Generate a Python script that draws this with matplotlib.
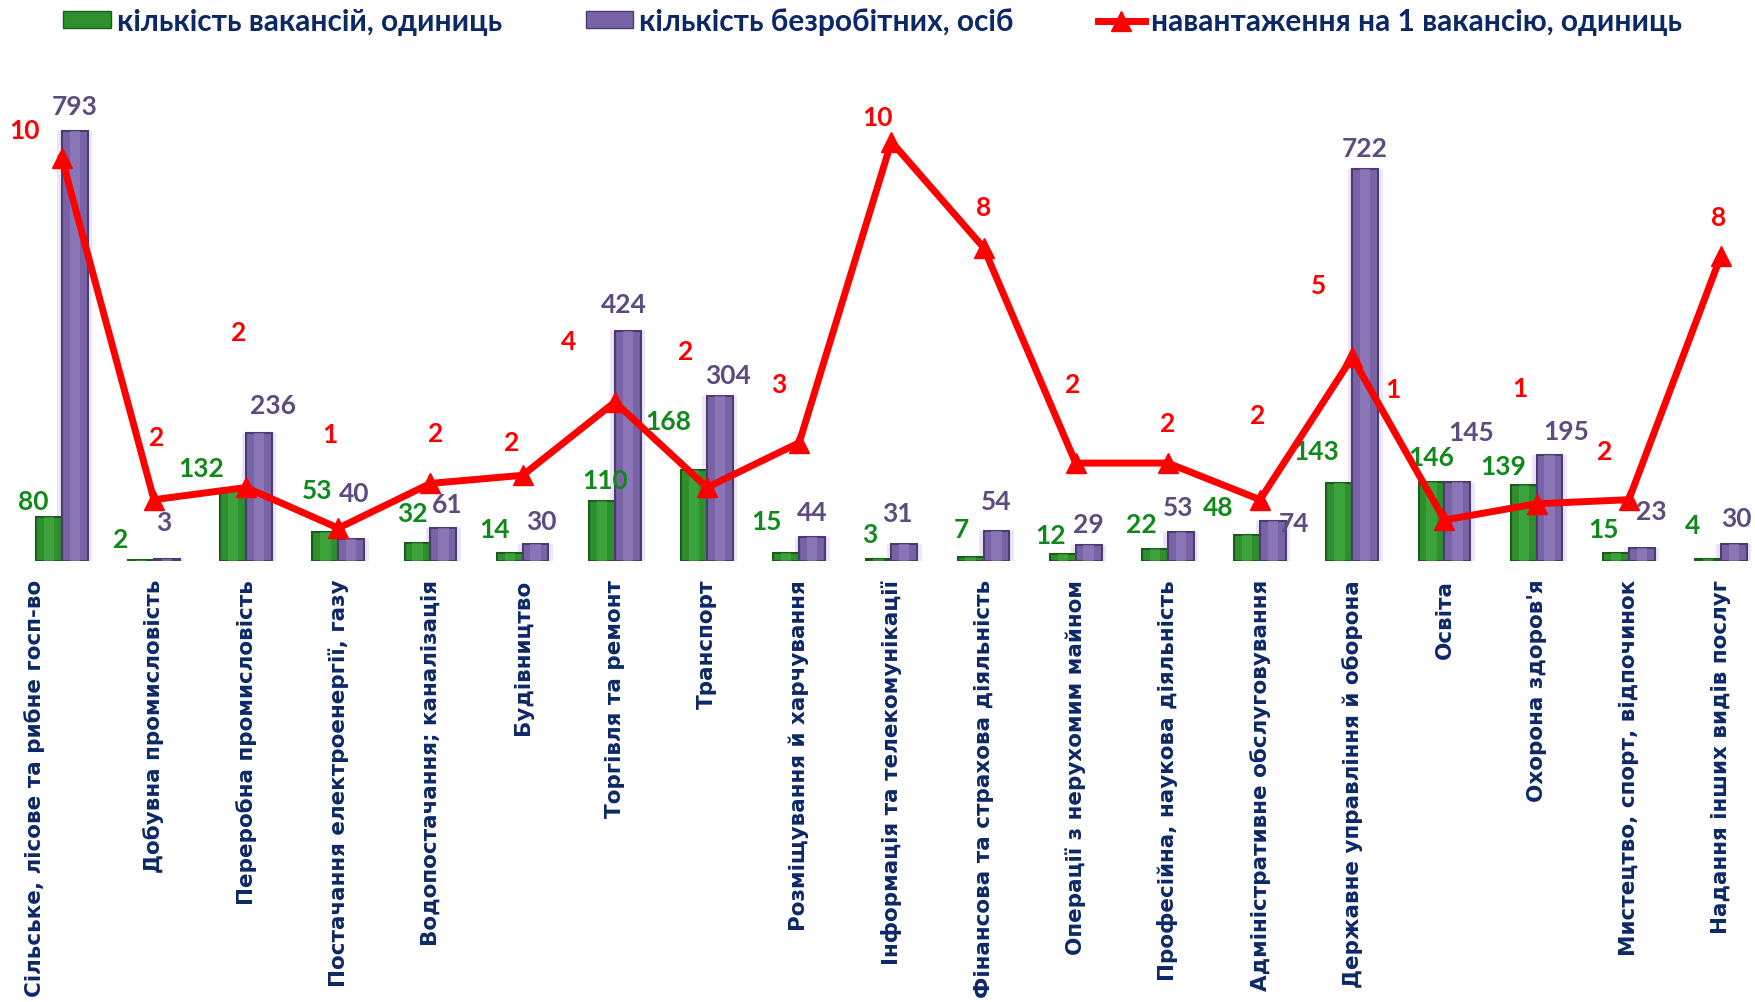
import matplotlib
matplotlib.use("Agg")
import matplotlib.pyplot as plt
import matplotlib.transforms as mtransforms
from matplotlib.patches import Patch
from matplotlib.lines import Line2D
import numpy as np

# дані
categories = [
    "Сільське, лісове та рибне госп-во",
    "Добувна промисловість",
    "Переробна промисловість",
    "Постачання електроенергії, газу",
    "Водопостачання; каналізація",
    "Будівництво",
    "Торгівля та ремонт",
    "Транспорт",
    "Розміщування й харчування",
    "Інформація та телекомунікації",
    "Фінансова та страхова діяльність",
    "Операції з нерухомим майном",
    "Професійна, наукова діяльність",
    "Адміністративне обслуговування",
    "Державне управління й оборона",
    "Освіта",
    "Охорона здоров'я",
    "Мистецтво, спорт, відпочинок",
    "Надання інших видів послуг",
]
vacancies = [80, 2, 132, 53, 32, 14, 110, 168, 15, 3, 7, 12, 22, 48, 143, 146, 139, 15, 4]
unemployed = [793, 3, 236, 40, 61, 30, 424, 304, 44, 31, 54, 29, 53, 74, 722, 145, 195, 23, 30]
load = [9.9, 1.5, 1.8, 0.8, 1.9, 2.1, 3.9, 1.8, 2.9, 10.3, 7.7, 2.4, 2.4, 1.5, 5.0, 1.0, 1.4, 1.5, 7.5]

legend_labels = ["кількість вакансій, одиниць",
                 "кількість безробітних, осіб",
                 "навантаження на 1 вакансію, одиниць"]

# зсуви підписів (пункти) - у оригіналі розставлені вручну
green_off = [(-11, 12), (-15, 15), (-23, 15), (-6, 30), (-4, 22), (-11, 17), (2, 15),
             (-19, 35), (-14, 23), (-6, 18), (-7, 20), (-9, 14), (-10, 18), (-21, 20),
             (-17, 23), (0, 18), (-15, 14), (-9, 17), (-11, 24)]
purple_off = [(0, 18), (-2, 27), (10, 20), (2, 33), (3, 17), (4, 17), (-3, 19), (6, 15),
              (0, 18), (-5, 22), (0, 22), (0, 15), (-2, 18), (15, -2), (0, 15), (10, 36),
              (12, 17), (7, 27), (2, 19)]
red_off = [(-27, 20), (2, 45), (-5, 112), (-6, 68), (4, 36), (-8, 24), (-33, 44), (-15, 98),
           (-15, 42), (-10, 18), (0, 29), (-2, 57), (0, 29), (-2, 61), (-24, 52), (-37, 94),
           (-12, 83), (-17, 35), (-2, 28)]

navy = "#0c2866"
g_main, g_dark, g_light = "#2f8f2f", "#1b5c1b", "#45b045"
p_main, p_dark, p_light = "#7863a6", "#4b3c70", "#9784c4"
g_text, p_text, r_col = "#11891a", "#5d4c80", "#ff0000"
num_font = ["Lato", "Noto Sans", "DejaVu Sans"]

fig = plt.figure(figsize=(17.56, 10.03), dpi=100)
ax = fig.add_axes([0, 1 - 561.7 / 1003, 1, (561.7 - 73.6) / 1003])

x = np.arange(len(categories))
w = 0.28

# світіння навколо фіолетових стовпців
ax.bar(x + w / 2, unemployed, w * 1.35, color="#d9cdf0", alpha=0.5, zorder=1)
ax.bar(x - w / 2, vacancies, w, color=g_main, edgecolor=g_dark, linewidth=1.5, zorder=2)
ax.bar(x - w / 2, vacancies, w * 0.4, color=g_light, alpha=0.6, zorder=3)
ax.bar(x + w / 2, unemployed, w, color=p_main, edgecolor=p_dark, linewidth=1.5, zorder=2)
ax.bar(x + w / 2, unemployed, w * 0.4, color=p_light, alpha=0.6, zorder=3)

for i in range(len(x)):
    ax.annotate(str(vacancies[i]), (x[i] - w / 2, vacancies[i]), xytext=green_off[i],
                textcoords="offset points", ha="center", va="center", fontsize=19,
                fontweight="bold", color=g_text, family=num_font, zorder=6)
    ax.annotate(str(unemployed[i]), (x[i] + w / 2, unemployed[i]), xytext=purple_off[i],
                textcoords="offset points", ha="center", va="center", fontsize=19,
                fontweight="bold", color=p_text, family=num_font, zorder=6)

ax.set_ylim(0, 900)
ax.set_xlim(-0.67, 18.38)
ax.set_yticks([])
for s in ax.spines.values():
    s.set_visible(False)

ax.set_xticks(x)
ax.set_xticklabels(categories, rotation=90, fontsize=15.5, fontweight="bold",
                   color=navy, family="DejaVu Sans")
ax.tick_params(axis="x", length=0, pad=13)
# перший підпис у оригіналі трохи зсунутий вліво
lab0 = ax.get_xticklabels()[0]
lab0.set_transform(lab0.get_transform() + mtransforms.ScaledTranslation(-0.27, 0, fig.dpi_scale_trans))

ax2 = ax.twinx()
ax2.plot(x, load, color=r_col, linewidth=5, marker="^", markersize=14, zorder=5)
for i in range(len(x)):
    ax2.annotate("{:.0f}".format(load[i]), (x[i], load[i]), xytext=red_off[i],
                 textcoords="offset points", ha="center", va="center", fontsize=19,
                 fontweight="bold", color=r_col, family=num_font)
ax2.set_ylim(0, 12)
ax2.set_yticks([])
for s in ax2.spines.values():
    s.set_visible(False)

handles = [Patch(facecolor=g_main, edgecolor=g_dark),
           Patch(facecolor=p_main, edgecolor=p_dark),
           Line2D([], [], color=r_col, linewidth=5, marker="^", markersize=14)]
fig.legend(handles, legend_labels, loc="center", bbox_to_anchor=(0.497, 0.978), ncol=3,
           frameon=False, handlelength=1.6, handleheight=0.5, handletextpad=0.2,
           columnspacing=2.8, prop={"family": num_font, "weight": "bold", "size": 21.5},
           labelcolor=navy)

fig.savefig("out.png", dpi=100)
